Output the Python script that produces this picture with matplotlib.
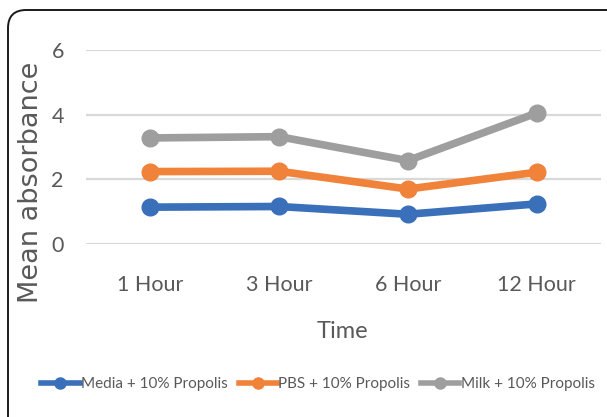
import matplotlib
matplotlib.use("Agg")
import matplotlib.pyplot as plt
from matplotlib.patches import FancyBboxPatch
from matplotlib.lines import Line2D

categories = ["1 Hour", "3 Hour", "6 Hour", "12 Hour"]
media = [1.14, 1.16, 0.92, 1.24]
pbs = [2.24, 2.25, 1.70, 2.22]
milk = [3.28, 3.32, 2.58, 4.05]
series_names = ["Media + 10% Propolis", "PBS + 10% Propolis", "Milk + 10% Propolis"]
colors = ["#3A6FBA", "#F0823A", "#9E9E9E"]
yticks = [0, 2, 4, 6]

W, H = 607, 417
fig = plt.figure(figsize=(W / 100, H / 100), dpi=100)
font = ["Lato", "DejaVu Sans"]
txt = "#595959"

# rounded border (top-left corner visible, right/bottom run off the image)
border = FancyBboxPatch((8 / W, -0.2), 1.2, (1 - 10 / H) + 0.2,
                        boxstyle="round,pad=0,rounding_size=0.03",
                        transform=fig.transFigure, fill=False,
                        edgecolor="#1a1a1a", linewidth=1.4, mutation_aspect=W / H)
fig.patches.append(border)

ax = fig.add_axes([86 / W, 1 - 244 / H, (601 - 86) / W, (244 - 50) / H])
x = list(range(len(categories)))
for vals, name, c in zip([media, pbs, milk], series_names, colors):
    ax.plot(x, vals, color=c, lw=5.5, marker="o", ms=12, label=name,
            solid_capstyle="round", zorder=3)

ax.set_xlim(-0.5, len(categories) - 0.5)
ax.set_ylim(0, 6)
ax.set_yticks(yticks)
ax.set_yticklabels([str(v) for v in yticks], fontfamily=font, fontsize=15.5, color=txt)
ax.set_xticks(x)
ax.set_xticklabels(categories, fontfamily=font, fontsize=15.5, color=txt)
ax.tick_params(length=0)
ax.tick_params(axis="x", pad=22)
ax.tick_params(axis="y", pad=16)
ax.grid(axis="y", color="#D9D9D9", lw=1.6)
ax.set_axisbelow(True)
for s in ax.spines.values():
    s.set_visible(False)

fig.text(342 / W, 1 - 331 / H, "Time", ha="center", va="center",
         fontfamily=font, fontsize=17, color=txt)
fig.text(31 / W, 1 - 182 / H, "Mean absorbance", rotation=90, ha="center", va="center",
         fontsize=19.5, color=txt, fontfamily="DejaVu Sans")

handles = [Line2D([0], [0], color=c, lw=4, marker="o", ms=8) for c in colors]
fig.legend(handles, series_names, loc="center", bbox_to_anchor=(318 / W, 1 - 384 / H),
           ncol=3, frameon=False, prop={"family": font, "size": 11},
           labelcolor=txt, handlelength=2.5, handletextpad=0.1, columnspacing=0.7)

fig.savefig("out.png", dpi=100)
